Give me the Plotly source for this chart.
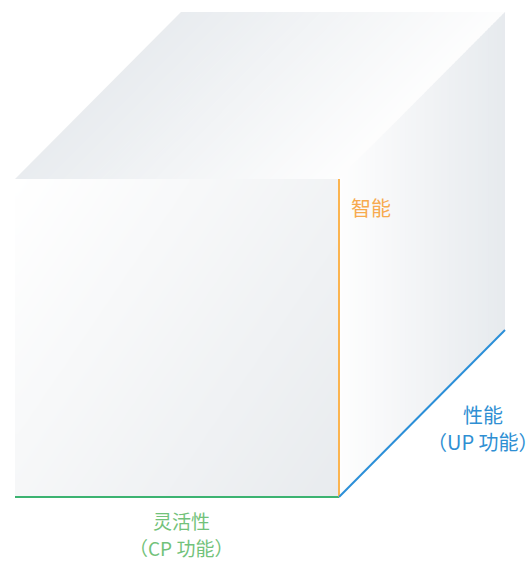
import numpy as np
import plotly.graph_objects as go

# ---- data: cube geometry (diagram units = pixels of the reference) ----
front_left = 15
front_right = 339
front_top = 179
front_bottom = 497
depth_dx = 166
depth_dy = -167

label_lines = [["灵活性", "（CP 功能）"], ["智能"], ["性能", "（UP 功能）"]]
label_anchor_x = [181, 371, 483]
label_anchor_y = [[520, 547], [207], [414, 441]]
label_sizes = [19, 20, 20]
label_colors = ["#72c27a", "#f7aa4e", "#2f8fd3"]
edge_colors = ["#3cb371", "#fbb450", "#2b8fd8"]

face_dark = (229, 233, 237)

def mix(t):
    r = int(255 + (face_dark[0] - 255) * t)
    g = int(255 + (face_dark[1] - 255) * t)
    b = int(255 + (face_dark[2] - 255) * t)
    return f"rgb({r},{g},{b})"

fig = go.Figure()

# front face: diagonal gradient via heatmap (cell edges)
nx, ny = 60, 60
xe = np.linspace(front_left, front_right, nx + 1)
ye = np.linspace(front_top, front_bottom, ny + 1)
xc = (xe[:-1] + xe[1:]) / 2
yc = (ye[:-1] + ye[1:]) / 2
xn = (xc - front_left) / (front_right - front_left)
yn = (yc - front_top) / (front_bottom - front_top)
z = (xn[None, :] * 0.6 + yn[:, None] * 0.4)
fig.add_trace(go.Heatmap(
    x=xe, y=ye, z=z, zmin=0, zmax=1, zsmooth="best", showscale=False,
    colorscale=[[0, "rgb(255,255,255)"], [1, "rgb(232,235,238)"]],
    hoverinfo="skip"))

# top face: strips along the width, gray on left -> white on right
N = 60
W = front_right - front_left
for i in range(N):
    u0 = front_left + W * i / N
    u1 = front_left + W * (i + 1) / N + 0.8
    t = 1 - (i + 0.5) / N
    fig.add_trace(go.Scatter(
        x=[u0, u1, u1 + depth_dx, u0 + depth_dx, u0],
        y=[front_top, front_top, front_top + depth_dy, front_top + depth_dy, front_top],
        fill="toself", fillcolor=mix(0.05 + 0.8 * t), mode="none",
        hoverinfo="skip", showlegend=False))

# right face: strips along depth, white on left -> gray on right
for i in range(N):
    s0 = i / N
    s1 = min((i + 1) / N + 0.005, 1)
    t = (i + 0.5) / N
    x0 = front_right + depth_dx * s0
    x1 = front_right + depth_dx * s1
    ya0 = front_top + depth_dy * s0
    ya1 = front_top + depth_dy * s1
    yb0 = front_bottom + depth_dy * s0
    yb1 = front_bottom + depth_dy * s1
    fig.add_trace(go.Scatter(
        x=[x0, x1, x1, x0, x0],
        y=[ya0, ya1, yb1, yb0, ya0],
        fill="toself", fillcolor=mix(0.03 + 0.9 * t), mode="none",
        hoverinfo="skip", showlegend=False))

# edges
fig.add_trace(go.Scatter(x=[front_left, front_right], y=[front_bottom, front_bottom],
                         mode="lines", line=dict(color=edge_colors[0], width=2),
                         hoverinfo="skip", showlegend=False))
fig.add_trace(go.Scatter(x=[front_right, front_right], y=[front_top, front_bottom],
                         mode="lines", line=dict(color=edge_colors[1], width=2),
                         hoverinfo="skip", showlegend=False))
fig.add_trace(go.Scatter(x=[front_right, front_right + depth_dx],
                         y=[front_bottom, front_bottom + depth_dy],
                         mode="lines", line=dict(color=edge_colors[2], width=2),
                         hoverinfo="skip", showlegend=False))

font = "Noto Sans CJK SC, Noto Sans, sans-serif"
for lines, ax, ays, size, col in zip(label_lines, label_anchor_x, label_anchor_y,
                                     label_sizes, label_colors):
    for txt, ay in zip(lines, ays):
        fig.add_annotation(x=ax, y=ay, text=txt, showarrow=False,
                           xanchor="center", yanchor="middle",
                           font=dict(family=font, size=size, color=col))

fig.update_layout(
    width=532, height=561, margin=dict(l=0, r=0, t=0, b=0),
    paper_bgcolor="white", plot_bgcolor="white", showlegend=False,
    xaxis=dict(range=[0, 532], visible=False, fixedrange=True),
    yaxis=dict(range=[561, 0], visible=False, fixedrange=True),
)
fig.write_html("out.html", config={"displayModeBar": False},
               post_script="document.body.style.margin='0';document.body.style.overflow='hidden';")
